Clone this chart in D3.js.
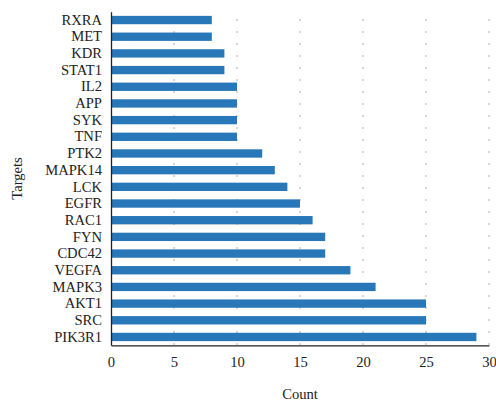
<!DOCTYPE html>
<html>
<head>
<meta charset="utf-8">
<script src="https://cdn.jsdelivr.net/npm/d3@7/dist/d3.min.js"></script>
<style>
body { margin: 0; background: #fff; }
svg text { font-family: "Liberation Serif", "Times New Roman", serif; fill: #222; }
</style>
</head>
<body>
<div class="chart-container"></div>
<script>
// targets, top to bottom
var targets = ["RXRA", "MET", "KDR", "STAT1", "IL2", "APP", "SYK", "TNF", "PTK2", "MAPK14",
  "LCK", "EGFR", "RAC1", "FYN", "CDC42", "VEGFA", "MAPK3", "AKT1", "SRC", "PIK3R1"];
var counts = [8, 8, 9, 9, 10, 10, 10, 10, 12, 13, 14, 15, 16, 17, 17, 19, 21, 25, 25, 29];
var xTicks = [0, 5, 10, 15, 20, 25, 30];

var W = 496, H = 402;
var margins = { top: 11.7, bottom: 402 - 345.3, left: 111, right: 496 - 489 };
var width = W - margins.left - margins.right;
var height = H - margins.top - margins.bottom;
var fs = 14.6;

var svg = d3.select(".chart-container").append("svg")
  .attr("width", W).attr("height", H);

var g = svg.append("g")
  .attr("transform", "translate(" + margins.left + "," + margins.top + ")");

var x = d3.scaleLinear().domain([0, 30]).range([0, width]);
var y = d3.scaleBand().domain(targets).range([0, height]).paddingInner(0.5).paddingOuter(0.25);

// dotted grid
g.selectAll(".grid").data(xTicks.slice(1)).enter().append("line")
  .attr("class", "grid")
  .attr("x1", function(d) { return x(d); }).attr("x2", function(d) { return x(d); })
  .attr("y1", 0).attr("y2", height)
  .attr("stroke", "#777").attr("stroke-width", 1.2)
  .attr("stroke-dasharray", "1.2,10.8").attr("stroke-dashoffset", -7.7);

// bars
g.selectAll(".bar").data(counts).enter().append("rect")
  .attr("class", "bar")
  .attr("x", 0)
  .attr("y", function(d, i) { return y(targets[i]); })
  .attr("width", function(d) { return x(d); })
  .attr("height", y.bandwidth())
  .attr("fill", "#2877b8");

// axes
var xAxis = g.append("g").attr("transform", "translate(0," + height + ")")
  .call(d3.axisBottom(x).tickValues(xTicks).tickSize(0).tickPadding(11));
xAxis.select(".domain").attr("stroke", "#222").attr("stroke-width", 1.3);
xAxis.selectAll("text").attr("font-size", fs);

var yAxis = g.append("g")
  .call(d3.axisLeft(y).tickSize(0).tickPadding(9));
yAxis.select(".domain").attr("stroke", "#222").attr("stroke-width", 1.3);
yAxis.selectAll("text").attr("font-size", fs);
svg.selectAll(".tick text").style("font-family", "'Liberation Serif', serif").attr("fill", "#222");

// axis titles
svg.append("text")
  .attr("x", margins.left + width / 2).attr("y", 399)
  .attr("text-anchor", "middle").attr("font-size", fs)
  .text("Count");

svg.append("text")
  .attr("transform", "translate(22," + (margins.top + height / 2) + ") rotate(-90)")
  .attr("text-anchor", "middle").attr("font-size", fs)
  .text("Targets");
</script>
</body>
</html>
